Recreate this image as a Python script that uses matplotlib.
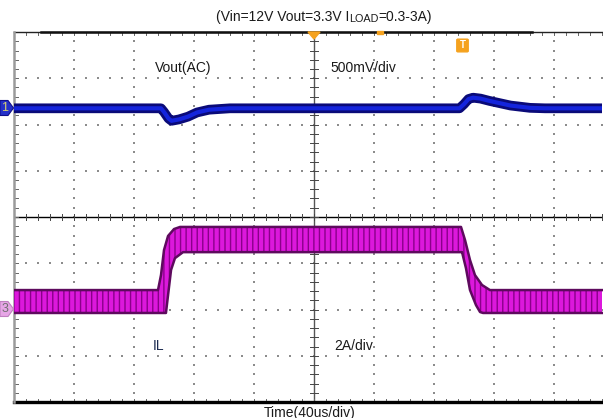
"""Scope capture: load-step transient, Vout (AC) and inductor current."""

import matplotlib
matplotlib.use("Agg")
import matplotlib.pyplot as plt
from matplotlib.patches import Polygon, FancyBboxPatch
import numpy as np

# ---- data (time in us, 40us/div) ----
vout_t = [0, 98, 100, 103, 105, 110, 116, 122, 130, 144, 297, 300, 303, 306,
          311, 317, 324, 331, 344, 354, 392]
vout_mv = [0, 0, -40, -110, -135, -120, -90, -45, -15, 0, 0, 45, 100, 115,
           105, 80, 55, 30, 5, 0, 0]

il_t_up = [0, 96, 98, 100, 102.7, 106.7, 110.7, 298, 300.7, 304, 307.3, 312,
           317.3, 392]
il_up = [0.82, 0.82, 1.47, 2.55, 3.16, 3.46, 3.55, 3.55, 2.98, 2.12, 1.47,
         1.04, 0.82, 0.82]
il_t_lo = [0, 101.3, 102.7, 104.7, 107.3, 112.7, 298.7, 301.3, 304, 308,
           310.7, 312.7, 392]
il_lo = [-0.17, -0.17, 0.6, 1.69, 2.2, 2.46, 2.46, 1.77, 0.82, 0.17, -0.13,
         -0.17, -0.17]

TIME_DIV = 40.0     # us/div
VOUT_DIV = 500.0    # mV/div
IL_DIV = 2.0        # A/div
CH1_POS = 6.35      # divisions from bottom
CH3_POS = 2.01

TITLE = "(Vin=12V Vout=3.3V I"
XLABEL = "Time(40us/div)"

plt.rcParams["font.family"] = ["Liberation Sans", "DejaVu Sans"]
plt.rcParams["hatch.color"] = "#8a008a"
plt.rcParams["hatch.linewidth"] = 1.0

W, H = 603, 418
fig = plt.figure(figsize=(W / 100, H / 100), dpi=100)
fig.patch.set_facecolor("white")
x0, y0, y1 = 14, 402, 32
ppd = 60.0
ax = fig.add_axes([x0 / W, (H - y0) / H, (W - x0) / W, (y0 - y1) / H])
xmax = (W - x0) / ppd
ax.set_xlim(0, xmax)
ax.set_ylim(0, 8)
ax.axis("off")

# dotted graticule
gc = "#8c8c8c"
for i in range(1, 10):
    if i == 5:
        continue
    yy = np.arange(0, 8.01, 0.2)
    ax.scatter(np.full_like(yy, i), yy, s=1.2, marker="s", c=gc, lw=0, zorder=1)
for j in range(1, 8):
    if j == 4:
        continue
    xx = np.arange(0, xmax, 0.2)
    ax.scatter(xx, np.full_like(xx, j), s=1.2, marker="s", c=gc, lw=0, zorder=1)

# center axes with ticks
ax.axhline(4, color="black", lw=1.0, zorder=2)
ax.axvline(5, color="#555555", lw=1.0, zorder=2)
for k in np.arange(0, xmax, 0.2):
    ax.plot([k, k], [3.94, 4.06], color="#444444", lw=0.7, zorder=2)
    ax.plot([k, k], [7.94, 8.0], color="#666666", lw=0.7, zorder=2)
    ax.plot([k, k], [0.0, 0.06], color="#666666", lw=0.7, zorder=2)
for k in np.arange(0, 8.01, 0.2):
    ax.plot([4.93, 5.07], [k, k], color="#444444", lw=0.7, zorder=2)
    ax.plot([0, 0.06], [k, k], color="#666666", lw=0.7, zorder=2)

# borders
ax.plot([0, xmax], [8, 8], color="#222222", lw=1.0, zorder=3, clip_on=False)
ax.plot([0.45, 8.63], [8, 8], color="#111111", lw=1.8, zorder=3, clip_on=False)
ax.plot([0, xmax], [0, 0], color="black", lw=2.4, zorder=3, clip_on=False)
ax.plot([0, 0], [0, 8], color="#9a9a9a", lw=1.8, zorder=3, clip_on=False)

# IL band
tu = np.array(il_t_up) / TIME_DIV
tl = np.array(il_t_lo) / TIME_DIV
tt = np.union1d(tu, tl)
up = np.interp(tt, tu, np.array(il_up) / IL_DIV + CH3_POS)
lo = np.interp(tt, tl, np.array(il_lo) / IL_DIV + CH3_POS)
ax.fill_between(tt, lo, up, facecolor="#dc18dc", hatch="|||", lw=0, zorder=4)
ax.plot(tt, up, color="#5e0a5e", lw=1.8, zorder=5)
ax.plot(tt, lo, color="#5e0a5e", lw=1.8, zorder=5)

# Vout trace
vt = np.array(vout_t) / TIME_DIV
vv = np.array(vout_mv) / VOUT_DIV + CH1_POS
ax.plot(vt, vv, color="#0a0a78", lw=7.0, solid_capstyle="butt", zorder=6)
ax.plot(vt, vv, color="#1424dc", lw=3.0, solid_capstyle="butt", zorder=7)


def ftxt(x, y, s, **kw):
    return fig.text(x / W, 1 - y / H, s, **kw)


fs = 10
ftxt(155, 68, "Vout(AC)", fontsize=fs, color="#1a1a1a", va="center")
ftxt(330, 68, "500mV/div", fontsize=fs, color="#1a1a1a", va="center")
ftxt(153, 346, "IL", fontsize=fs, color="#1a2a50", va="center")
ftxt(334, 346, "2A/div", fontsize=fs, color="#1a1a1a", va="center")
ftxt(310, 413, XLABEL, fontsize=fs, color="#1a1a1a", va="center", ha="center")

# title with small-caps LOAD
fig.canvas.draw()
r = fig.canvas.get_renderer()
t1 = ftxt(216, 17, TITLE, fontsize=fs, color="#1a1a1a", va="center")
bb = t1.get_window_extent(r)
t2 = fig.text(bb.x1 / W, bb.y0 / H, "LOAD", fontsize=fs * 0.78,
              color="#1a1a1a", va="bottom")
bb2 = t2.get_window_extent(r)
fig.text(bb2.x1 / W, bb.y0 / H, "=0.3-3A)", fontsize=fs, color="#1a1a1a",
         va="bottom")

# markers
orange = "#f5a21e"
fig.patches.append(Polygon([(308 / W, 1 - 32 / H), (320 / W, 1 - 32 / H),
                            (314 / W, 1 - 39 / H)], closed=True,
                           transform=fig.transFigure, color=orange))
fig.patches.append(Polygon([(377 / W, 1 - 31 / H), (383 / W, 1 - 31 / H),
                            (383 / W, 1 - 33.5 / H), (377 / W, 1 - 33.5 / H)],
                           closed=True, transform=fig.transFigure, color=orange))
fig.patches.append(FancyBboxPatch((458 / W, 1 - 51 / H), 9 / W, 11 / H,
                                  boxstyle="round,pad=0.002",
                                  transform=fig.transFigure, color=orange))
ftxt(462.5, 45, "T", fontsize=7, color="white", ha="center", va="center",
     weight="bold")


def tag(yc, face, edge, label, tcol):
    pts = [(0, yc - 7.5), (8, yc - 7.5), (13.5, yc), (8, yc + 7.5),
           (0, yc + 7.5)]
    fig.patches.append(Polygon([(px / W, 1 - py / H) for px, py in pts],
                               closed=True, transform=fig.transFigure,
                               facecolor=face, edgecolor=edge, lw=0.8))
    ftxt(5, yc, label, fontsize=9, color=tcol, ha="center", va="center")


tag(108, "#2430c8", "#10108a", "1", "#d8d070")
tag(309, "#e6a6e6", "#c080c0", "3", "#707070")

fig.savefig("out.png", dpi=100, facecolor="white")
